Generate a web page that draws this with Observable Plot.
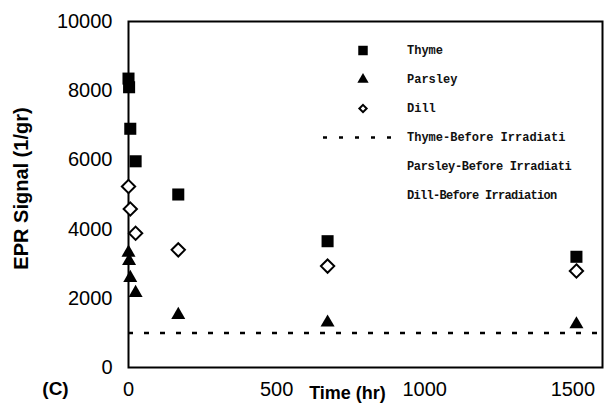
<!DOCTYPE html>
<html>
<head>
<meta charset="utf-8">
<script src="https://cdn.jsdelivr.net/npm/d3@7"></script>
<script src="https://cdn.jsdelivr.net/npm/@observablehq/plot@0.6"></script>
<style>
  html, body { margin: 0; padding: 0; background: #fff; }
  #wrap { position: relative; width: 609px; height: 419px; overflow: hidden; }
  #legend { position: absolute; left: 318px; top: 36px; font-family: "Liberation Mono", "DejaVu Sans Mono", monospace; font-size: 12px; font-weight: bold; color: #111; }
  #legend .row { display: flex; align-items: center; height: 29px; }
  #legend svg { width: 78px; height: 29px; flex: none; }
  #legend .lab { margin-left: 11px; white-space: nowrap; }
</style>
</head>
<body>
<div id="wrap"></div>
<script>
// ---- data ----
const series = ["Thyme", "Parsley", "Dill"];
const thymeTime = [0, 2, 6, 24, 168, 672, 1512];
const thymeSignal = [8350, 8100, 6900, 5960, 5000, 3650, 3200];
const parsleyTime = [0, 2, 6, 24, 168, 672, 1512];
const parsleySignal = [3320, 3080, 2590, 2155, 1520, 1300, 1250];
const dillTime = [0, 6, 24, 168, 672, 1512];
const dillSignal = [5230, 4580, 3880, 3400, 2930, 2790];
const thymeBeforeIrradiation = 1000;
const xTicks = [0, 500, 1000, 1500];
const yTicks = [0, 2000, 4000, 6000, 8000, 10000];
const xLabel = "Time (hr)";
const yLabel = "EPR Signal (1/gr)";
const panelLabel = "(C)";
const legendLabels = ["Thyme", "Parsley", "Dill", "Thyme-Before Irradiati", "Parsley-Before Irradiati", "Dill-Before Irradiation"];

const toRows = (name, t, s) => t.map((time, i) => ({series: name, time, signal: s[i]}));
const thyme = toRows("Thyme", thymeTime, thymeSignal);
const parsley = toRows("Parsley", parsleyTime, parsleySignal);
const dill = toRows("Dill", dillTime, dillSignal);

const chart = Plot.plot({
  width: 609,
  height: 419,
  marginLeft: 128,
  marginRight: 7,
  marginTop: 21,
  marginBottom: 52,
  style: {fontFamily: "'Liberation Sans', Arial, sans-serif", fontSize: "20px", color: "#000", background: "#fff", overflow: "visible"},
  x: {domain: [0, 1600], ticks: xTicks, tickSize: 0, tickPadding: 14, tickFormat: d3.format("d"), label: null},
  y: {domain: [0, 10000], ticks: yTicks, tickSize: 0, tickPadding: 16, tickFormat: d3.format("d"), label: null},
  marks: [
    Plot.ruleY([thymeBeforeIrradiation], {stroke: "#000", strokeWidth: 2.5, strokeDasharray: "5,11"}),
    Plot.frame({stroke: "#000", strokeWidth: 2}),
    Plot.dot(thyme, {x: "time", y: "signal", symbol: "square", r: 6.8, fill: "#000", stroke: "none"}),
    Plot.dot(parsley, {x: "time", y: "signal", symbol: "triangle", r: 5.2, fill: "#000", stroke: "none"}),
    Plot.dot(dill, {x: "time", y: "signal", symbol: "diamond2", r: 6, fill: "#fff", stroke: "#000", strokeWidth: 2}),
    Plot.text([yLabel], {frameAnchor: "left", textAnchor: "middle", lineAnchor: "middle", rotate: -90, dx: -107, dy: -6, fontWeight: "bold", fontSize: 20}),
    Plot.text([xLabel], {frameAnchor: "bottom", textAnchor: "middle", lineAnchor: "middle", dx: -18, dy: 26, fontWeight: "bold", fontSize: 18}),
    Plot.text([panelLabel], {frameAnchor: "bottom-left", textAnchor: "middle", lineAnchor: "middle", dx: -73, dy: 21, fontWeight: "bold", fontSize: 19})
  ]
});
const wrap = document.getElementById("wrap");
wrap.appendChild(chart);

// ---- legend (Excel-style, inside the plot area) ----
const legendKinds = ["square", "triangle", "diamond", "dash", "none", "none"];
const legendSpacing = ["0px", "0px", "0px", "0px", "-0.35px", "-0.7px"];
const legend = d3.select(wrap).append("div").attr("id", "legend");
legendLabels.forEach((label, i) => {
  const kind = legendKinds[i];
  const row = legend.append("div").attr("class", "row");
  const svg = row.append("svg").attr("viewBox", "0 0 78 29");
  const g = svg.append("g").attr("transform", "translate(45,14.5)");
  if (kind === "square") g.append("path").attr("d", d3.symbol(d3.symbolSquare, 90)()).attr("fill", "#000");
  if (kind === "triangle") g.append("path").attr("d", d3.symbol(d3.symbolTriangle, 55)()).attr("fill", "#000");
  if (kind === "diamond") g.append("path").attr("d", d3.symbol(d3.symbolDiamond2, 34)()).attr("fill", "#fff").attr("stroke", "#000").attr("stroke-width", 2);
  if (kind === "dash") svg.append("line").attr("x1", 5).attr("x2", 74).attr("y1", 14.5).attr("y2", 14.5).attr("stroke", "#000").attr("stroke-width", 2.5).attr("stroke-dasharray", "4,12");
  row.append("div").attr("class", "lab").style("letter-spacing", legendSpacing[i]).text(label);
});
</script>
</body>
</html>
